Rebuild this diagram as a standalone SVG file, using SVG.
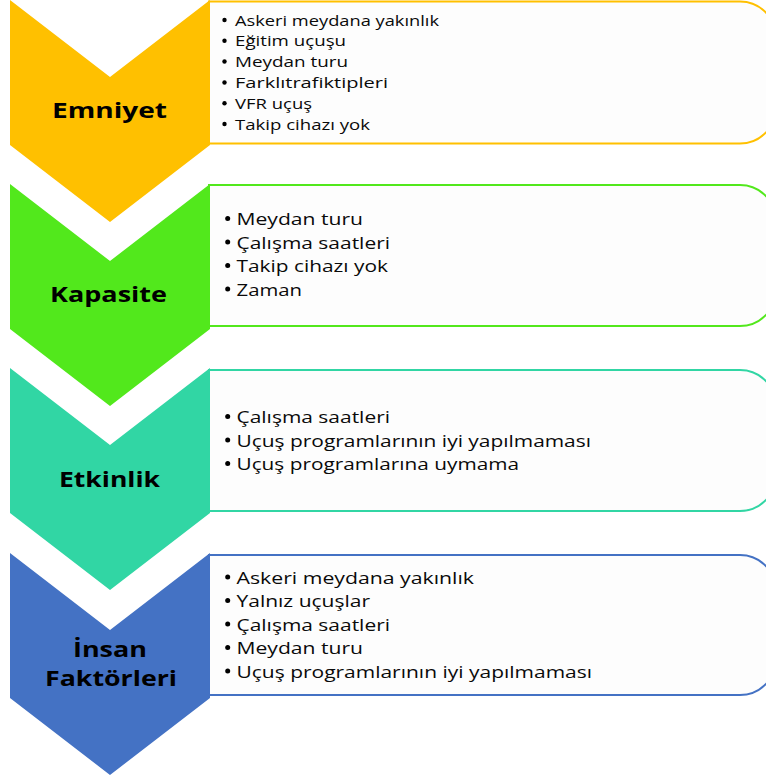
<svg xmlns="http://www.w3.org/2000/svg" width="766" height="780" viewBox="0 0 766 780">
<style>
.box{fill:#FDFDFD;stroke-width:2}
.lbl{font-family:"Open Sans","Noto Sans",sans-serif;font-weight:bold;font-size:22px;fill:#000;text-anchor:middle}
.itm{font-family:"Open Sans","Noto Sans",sans-serif;font-size:17px;fill:#0A0A0A}
.sm{font-size:15px}
.dot{fill:#000}
.y{fill:#FFC000}.ys{stroke:#FFC000}
.g{fill:#52E81C}.gs{stroke:#52E81C}
.t{fill:#31D6A4}.ts{stroke:#31D6A4}
.b{fill:#4472C4}.bs{stroke:#4472C4}
</style>
<rect width="766" height="780" fill="#FFFFFF"/>

<g id="emniyet">
<path class="box ys" d="M209,1.5 H740 A36,36 0 0 1 776,37.5 V107.5 A36,36 0 0 1 740,143.5 H209 Z"/>
<path class="y" d="M10,0 L110,77 L210,0 L210,145 L110,222 L10,145 Z"/>
<text class="lbl" x="109.5" y="118" textLength="115" lengthAdjust="spacingAndGlyphs">Emniyet</text>
<g class="dot">
<circle cx="224.5" cy="20" r="2.2"/><circle cx="224.5" cy="40.8" r="2.2"/><circle cx="224.5" cy="61.5" r="2.2"/>
<circle cx="224.5" cy="82.5" r="2.2"/><circle cx="224.5" cy="103.2" r="2.2"/><circle cx="224.5" cy="124" r="2.2"/>
</g>
<g class="itm sm">
<text x="235" y="25.5" textLength="204" lengthAdjust="spacingAndGlyphs">Askeri meydana yakınlık</text>
<text x="235" y="46.3" textLength="111" lengthAdjust="spacingAndGlyphs">Eğitim uçuşu</text>
<text x="235" y="67" textLength="113" lengthAdjust="spacingAndGlyphs">Meydan turu</text>
<text x="235" y="88" textLength="153" lengthAdjust="spacingAndGlyphs">Farklıtrafiktipleri</text>
<text x="235" y="108.7" textLength="77" lengthAdjust="spacingAndGlyphs">VFR uçuş</text>
<text x="235" y="129.5" textLength="135" lengthAdjust="spacingAndGlyphs">Takip cihazı yok</text>
</g>
</g>

<g id="kapasite">
<path class="box gs" d="M209,185 H740 A36,36 0 0 1 776,221 V290 A36,36 0 0 1 740,326 H209 Z"/>
<path class="g" d="M10,184 L110,261 L210,184 L210,329 L110,406 L10,329 Z"/>
<text class="lbl" x="108.5" y="301.5" textLength="117" lengthAdjust="spacingAndGlyphs">Kapasite</text>
<g class="dot">
<circle cx="227.7" cy="218.5" r="2.5"/><circle cx="227.7" cy="242" r="2.5"/>
<circle cx="227.7" cy="265.5" r="2.5"/><circle cx="227.7" cy="289" r="2.5"/>
</g>
<g class="itm">
<text x="236.5" y="225" textLength="126.5" lengthAdjust="spacingAndGlyphs">Meydan turu</text>
<text x="236.5" y="248.5" textLength="153.5" lengthAdjust="spacingAndGlyphs">Çalışma saatleri</text>
<text x="236.5" y="272" textLength="151.5" lengthAdjust="spacingAndGlyphs">Takip cihazı yok</text>
<text x="236.5" y="295.5" textLength="65.5" lengthAdjust="spacingAndGlyphs">Zaman</text>
</g>
</g>

<g id="etkinlik">
<path class="box ts" d="M209,370 H740 A36,36 0 0 1 776,406 V475 A36,36 0 0 1 740,511 H209 Z"/>
<path class="t" d="M10,368 L110,445 L210,368 L210,513 L110,590 L10,513 Z"/>
<text class="lbl" x="109.5" y="486.5" textLength="101" lengthAdjust="spacingAndGlyphs">Etkinlik</text>
<g class="dot">
<circle cx="227.7" cy="416.5" r="2.5"/><circle cx="227.7" cy="440" r="2.5"/><circle cx="227.7" cy="463.5" r="2.5"/>
</g>
<g class="itm">
<text x="236.5" y="423" textLength="153.5" lengthAdjust="spacingAndGlyphs">Çalışma saatleri</text>
<text x="236.5" y="446.5" textLength="354.5" lengthAdjust="spacingAndGlyphs">Uçuş programlarının iyi yapılmaması</text>
<text x="236.5" y="470" textLength="282.5" lengthAdjust="spacingAndGlyphs">Uçuş programlarına uymama</text>
</g>
</g>

<g id="insan-faktorleri">
<path class="box bs" d="M209,555 H740 A36,36 0 0 1 776,591 V659 A36,36 0 0 1 740,695 H209 Z"/>
<path class="b" d="M10,553 L110,630 L210,553 L210,698 L110,775 L10,698 Z"/>
<text class="lbl" x="110" y="656.5" textLength="74" lengthAdjust="spacingAndGlyphs">İnsan</text>
<text class="lbl" x="111" y="685.5" textLength="132" lengthAdjust="spacingAndGlyphs">Faktörleri</text>
<g class="dot">
<circle cx="227.7" cy="577" r="2.5"/><circle cx="227.7" cy="600.5" r="2.5"/><circle cx="227.7" cy="624" r="2.5"/>
<circle cx="227.7" cy="647.5" r="2.5"/><circle cx="227.7" cy="671" r="2.5"/>
</g>
<g class="itm">
<text x="236.5" y="583.5" textLength="237.5" lengthAdjust="spacingAndGlyphs">Askeri meydana yakınlık</text>
<text x="236.5" y="607" textLength="133.5" lengthAdjust="spacingAndGlyphs">Yalnız uçuşlar</text>
<text x="236.5" y="630.5" textLength="153.5" lengthAdjust="spacingAndGlyphs">Çalışma saatleri</text>
<text x="236.5" y="654" textLength="126.5" lengthAdjust="spacingAndGlyphs">Meydan turu</text>
<text x="236.5" y="677.5" textLength="355.5" lengthAdjust="spacingAndGlyphs">Uçuş programlarının iyi yapılmaması</text>
</g>
</g>
</svg>
